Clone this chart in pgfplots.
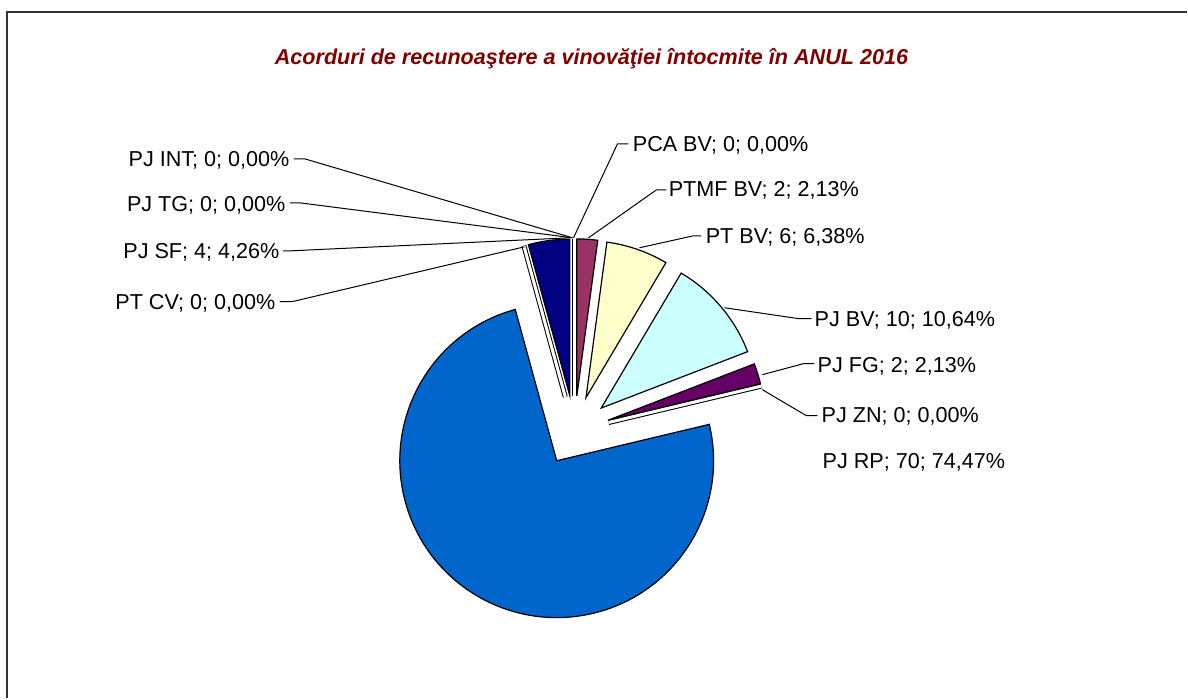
\documentclass[border=0pt]{standalone}
\usepackage{pgfplots}
\pgfplotsset{compat=1.18}
\usepackage{pgfplotstable}
\usepackage{fontspec}
\setmainfont{Liberation Sans}

\definecolor{cPTMF}{HTML}{993366}
\definecolor{cPT}{HTML}{FFFFCC}
\definecolor{cPJBV}{HTML}{CCFFFF}
\definecolor{cFG}{HTML}{660066}
\definecolor{cRP}{HTML}{0066CC}
\definecolor{cSF}{HTML}{000080}
\definecolor{titlered}{HTML}{800000}

% slices, clockwise from 12 o'clock
\pgfplotstableread[col sep=comma]{
name,value,fill
PCA BV,0,white
PTMF BV,2,cPTMF
PT BV,6,cPT
PJ BV,10,cPJBV
PJ FG,2,cFG
PJ ZN,0,white
PJ RP,70,cRP
PT CV,0,white
PJ SF,4,cSF
PJ TG,0,white
PJ INT,0,white
}\piedata

% geometry in pixels of the reference
\def\cx{575}\def\cy{431}\def\expl{35}\def\R{157}

% build the slice paths from the table
\pgfplotstablegetrowsof{\piedata}
\pgfmathtruncatemacro\nrows{\pgfplotsretval-1}
\gdef\total{0}
\foreach \i in {0,...,\nrows}{
  \pgfplotstablegetelem{\i}{value}\of\piedata
  \pgfmathsetmacro\tmp{\total+\pgfplotsretval}
  \xdef\total{\tmp}
}
\gdef\cum{0}
\gdef\slicecmds{}
\foreach \i in {0,...,\nrows}{
  \pgfplotstablegetelem{\i}{value}\of\piedata \let\v\pgfplotsretval
  \pgfplotstablegetelem{\i}{fill}\of\piedata \let\fc\pgfplotsretval
  \pgfmathsetmacro\tA{90-\cum/\total*360}
  \pgfmathsetmacro\tB{90-(\cum+\v)/\total*360}
  \pgfmathsetmacro\tM{(\tA+\tB)/2}
  \pgfmathsetmacro\vx{\cx+\expl*cos(\tM)}
  \pgfmathsetmacro\vy{\cy-\expl*sin(\tM)}
  \pgfmathsetmacro\sx{\vx+\R*cos(\tA)}
  \pgfmathsetmacro\sy{\vy-\R*sin(\tA)}
  \ifdim\v pt=0pt
    \xdef\slicecmds{\unexpanded\expandafter{\slicecmds}%
      \noexpand\draw[line width=0.5pt, double=white, double distance=1.5pt]
        (axis cs:\vx,\vy) -- (axis cs:\sx,\sy);}
  \else
    \xdef\slicecmds{\unexpanded\expandafter{\slicecmds}%
      \noexpand\filldraw[fill=\fc, draw=black, line width=0.6pt]
        (axis cs:\vx,\vy) -- (axis cs:\sx,\sy)
        arc[start angle=\tA, end angle=\tB, radius=78.5pt] -- cycle;}
  \fi
  \pgfmathsetmacro\tmp{\cum+\v}
  \xdef\cum{\tmp}
}

\begin{document}
\begin{tikzpicture}
\begin{axis}[
    x=0.5pt, y=0.5pt,
    xmin=0, xmax=1188, ymin=0, ymax=699,
    y dir=reverse,
    scale only axis,
    axis lines=none,
    clip=false,
]
\path (axis cs:0,0) rectangle (axis cs:1188,699);
% frame
\draw[line width=1pt, black!80] (axis cs:7,699) -- (axis cs:7,12) -- (axis cs:1188,12);
\slicecmds
% leader lines
\draw[line width=0.5pt] (axis cs:574,238) -- (axis cs:618,144) -- (axis cs:629,144);
\draw[line width=0.5pt] (axis cs:589,238) -- (axis cs:657,190) -- (axis cs:667,190);
\draw[line width=0.5pt] (axis cs:640,248) -- (axis cs:694,236) -- (axis cs:702,236);
\draw[line width=0.5pt] (axis cs:725,308) -- (axis cs:800,319) -- (axis cs:812,319);
\draw[line width=0.5pt] (axis cs:763,375) -- (axis cs:804,364) -- (axis cs:815,364);
\draw[line width=0.5pt] (axis cs:763,390) -- (axis cs:807,416) -- (axis cs:818,416);
\draw[line width=0.5pt] (axis cs:573,238) -- (axis cs:305,159) -- (axis cs:294,159);
\draw[line width=0.5pt] (axis cs:573,238) -- (axis cs:300,203) -- (axis cs:290,203);
\draw[line width=0.5pt] (axis cs:570,238) -- (axis cs:292,251) -- (axis cs:283,251);
\draw[line width=0.5pt] (axis cs:525,247) -- (axis cs:292,302) -- (axis cs:280,302);
% labels
\tikzset{lbl/.style={inner sep=0pt, font=\fontsize{10.8}{13}\selectfont}}
\node[lbl, anchor=base west] at (axis cs:633,152) {PCA BV; 0; 0,00\%};
\node[lbl, anchor=base west] at (axis cs:669,197) {PTMF BV; 2; 2,13\%};
\node[lbl, anchor=base west] at (axis cs:706,244) {PT BV; 6; 6,38\%};
\node[lbl, anchor=base west] at (axis cs:815,327) {PJ BV; 10; 10,64\%};
\node[lbl, anchor=base west] at (axis cs:818,373) {PJ FG; 2; 2,13\%};
\node[lbl, anchor=base west] at (axis cs:822,423) {PJ ZN; 0; 0,00\%};
\node[lbl, anchor=base west] at (axis cs:823,469) {PJ RP; 70; 74,47\%};
\node[lbl, anchor=base east] at (axis cs:290,167) {PJ INT; 0; 0,00\%};
\node[lbl, anchor=base east] at (axis cs:286,212) {PJ TG; 0; 0,00\%};
\node[lbl, anchor=base east] at (axis cs:280,259) {PJ SF; 4; 4,26\%};
\node[lbl, anchor=base east] at (axis cs:276,310) {PT CV; 0; 0,00\%};
% title
\node[anchor=base, inner sep=0pt, text=titlered,
      font=\fontsize{10.8}{13}\selectfont\bfseries\itshape]
  at (axis cs:592,65) {Acorduri de recunoaştere a vinovăţiei întocmite în ANUL 2016};
\end{axis}
\end{tikzpicture}
\end{document}
